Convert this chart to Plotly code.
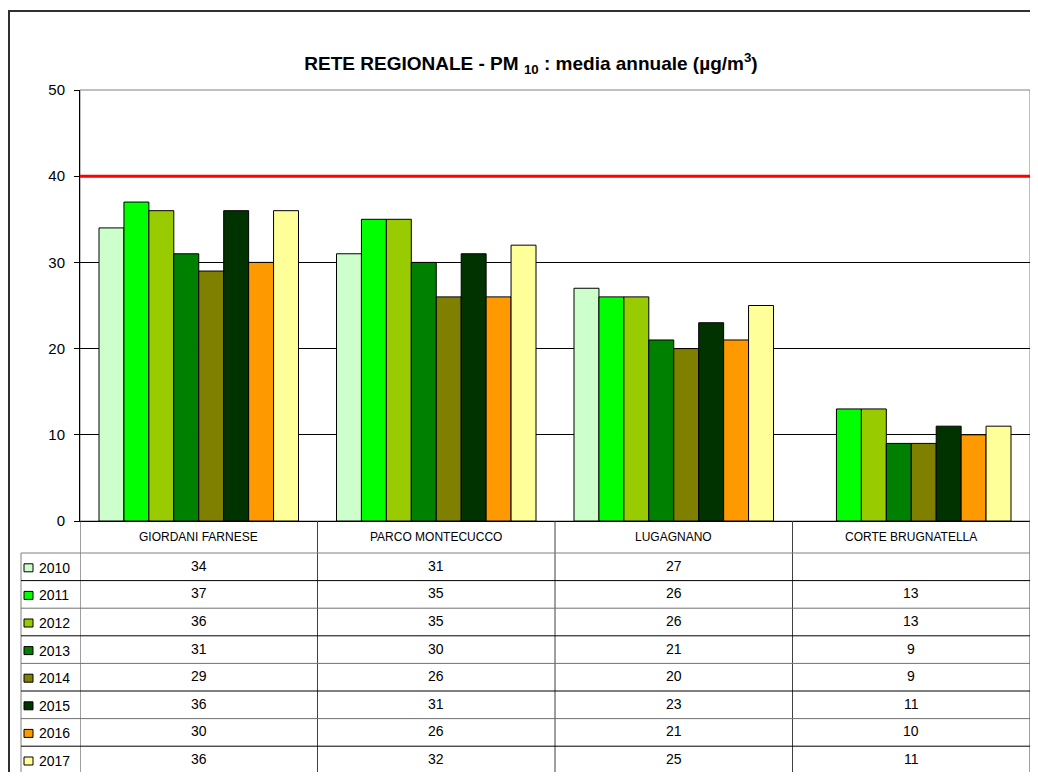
import plotly.graph_objects as go

# stations (categories) and yearly PM10 means
stations = ["GIORDANI FARNESE", "PARCO MONTECUCCO", "LUGAGNANO", "CORTE BRUGNATELLA"]
years = ["2010", "2011", "2012", "2013", "2014", "2015", "2016", "2017"]

v2010 = [34, 31, 27, None]
v2011 = [37, 35, 26, 13]
v2012 = [36, 35, 26, 13]
v2013 = [31, 30, 21, 9]
v2014 = [29, 26, 20, 9]
v2015 = [36, 31, 23, 11]
v2016 = [30, 26, 21, 10]
v2017 = [36, 32, 25, 11]
values = [v2010, v2011, v2012, v2013, v2014, v2015, v2016, v2017]

colors = ["#CCFFCC", "#00FF00", "#99CC00", "#008000",
          "#808000", "#003300", "#FF9900", "#FFFF99"]

limit = 40
y_ticks = [0, 10, 20, 30, 40, 50]

FONT = "Arial, Liberation Sans, sans-serif"

# page is 1038x780 but the html body adds an 8px margin on every side,
# so keep the figure small enough to avoid scrollbars
PAGE_W, PAGE_H, OFF = 1038, 780, 8
W, H = PAGE_W - 2 * OFF, PAGE_H - 2 * OFF
# plot area in page pixels
L, R, T, B = 80, PAGE_W - OFF, 90, 521


def px(p):
    return (p - L) / (R - L)


def py(p):
    return (B - p) / (B - T)


xs = list(range(len(stations)))

fig = go.Figure()
for yr, vals, col in zip(years, values, colors):
    fig.add_trace(go.Bar(
        x=xs, y=vals, name=yr,
        marker=dict(color=col, line=dict(color="#000000", width=1)),
        hoverinfo="y+name",
    ))

shapes = []
annotations = []

# plot border (grey top/right)
shapes.append(dict(type="rect", xref="paper", yref="paper", x0=0, x1=1, y0=0, y1=1,
                   line=dict(color="#808080", width=1), layer="below"))
# limit line
shapes.append(dict(type="line", xref="paper", yref="y", x0=0, x1=1, y0=limit, y1=limit,
                   line=dict(color="#FF0000", width=3)))
# outer chart frame
shapes.append(dict(type="rect", xref="paper", yref="paper",
                   x0=px(9), x1=px(1060), y0=py(800), y1=py(11),
                   line=dict(color="#303030", width=2)))

# data table below the plot
header_bottom = 553
row_h = 27.6
table_bottom = header_bottom + row_h * len(years)
legend_left = 21

# vertical lines at category boundaries
for i in range(len(stations) + 1):
    shapes.append(dict(type="line", xref="x", yref="paper",
                       x0=i - 0.5, x1=i - 0.5, y0=py(B), y1=py(table_bottom),
                       line=dict(color="#404040", width=1)))
# legend column left edge
shapes.append(dict(type="line", xref="paper", yref="paper",
                   x0=px(legend_left), x1=px(legend_left),
                   y0=py(header_bottom), y1=py(table_bottom),
                   line=dict(color="#808080", width=1)))
# header bottom line
shapes.append(dict(type="line", xref="paper", yref="paper",
                   x0=px(legend_left), x1=1, y0=py(header_bottom), y1=py(header_bottom),
                   line=dict(color="#808080", width=1)))
# station names
for i, name in enumerate(stations):
    annotations.append(dict(x=i, xref="x", y=py((B + header_bottom) / 2), yref="paper",
                            text=name, showarrow=False, xanchor="center", yanchor="middle",
                            font=dict(family=FONT, size=12, color="#000000")))

for r, (yr, vals, col) in enumerate(zip(years, values, colors)):
    top = header_bottom + r * row_h
    bot = top + row_h
    mid = (top + bot) / 2
    shapes.append(dict(type="line", xref="paper", yref="paper",
                       x0=px(legend_left), x1=1, y0=py(bot), y1=py(bot),
                       line=dict(color="#000000" if r % 2 == 0 else "#707070", width=1)))
    # legend key
    shapes.append(dict(type="rect", xref="paper", yref="paper",
                       x0=px(24), x1=px(33), y0=py(mid + 5), y1=py(mid - 3),
                       fillcolor=col, line=dict(color="#000000", width=1)))
    annotations.append(dict(x=px(37), xref="paper", y=py(mid + 1), yref="paper",
                            text=yr, showarrow=False, xanchor="left", yanchor="middle",
                            font=dict(family=FONT, size=14, color="#000000")))
    for i, v in enumerate(vals):
        if v is None:
            continue
        annotations.append(dict(x=i, xref="x", y=py(mid - 1), yref="paper",
                                text=str(v), showarrow=False,
                                xanchor="center", yanchor="middle",
                                font=dict(family=FONT, size=14, color="#000000")))

fig.update_layout(
    width=W, height=H,
    margin=dict(l=L - OFF, r=PAGE_W - OFF - R, t=T - OFF, b=PAGE_H - OFF - B, pad=0),
    paper_bgcolor="#FFFFFF", plot_bgcolor="#FFFFFF",
    barmode="group", bargap=0.16, bargroupgap=0,
    showlegend=False,
    title=dict(text="<b>RETE REGIONALE - PM <sub>10</sub> : media annuale (µg/m<sup>3</sup>)</b>",
               x=px(531), xref="paper", y=1 - (63 - OFF) / H, yref="container",
               xanchor="center", yanchor="middle",
               font=dict(family=FONT, size=19, color="#000000")),
    shapes=shapes,
    annotations=annotations,
    font=dict(family=FONT, color="#000000"),
)
fig.update_xaxes(range=[-0.5, len(stations) - 0.5], showticklabels=False, ticks="",
                 showgrid=False, zeroline=False, showline=True,
                 linecolor="#000000", linewidth=1)
fig.update_yaxes(range=[0, 50], tickvals=y_ticks, ticks="outside", ticklen=5,
                 tickcolor="#000000", showline=True, linecolor="#000000", linewidth=1,
                 showgrid=True, gridcolor="#000000", gridwidth=1, zeroline=False,
                 ticklabelstandoff=6,
                 tickfont=dict(family=FONT, size=15, color="#000000"))

fig.write_html("out.html")
